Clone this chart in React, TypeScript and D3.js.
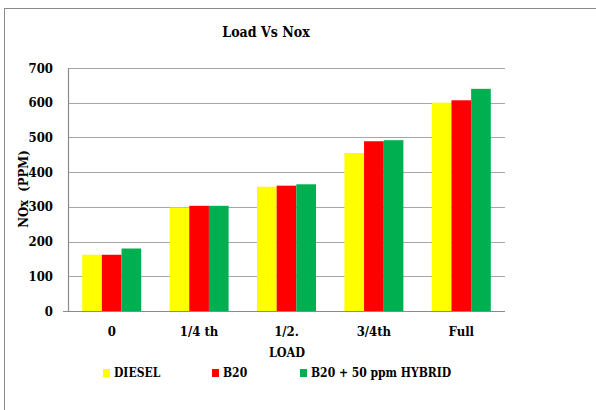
import React, { useEffect, useRef } from 'react';
import * as d3 from 'd3';

const loads = ['0', '1/4 th', '1/2.', '3/4th', 'Full'];
const seriesNames = ['DIESEL', 'B20', 'B20 + 50 ppm HYBRID'];
const diesel = [162, 298, 358, 455, 600];
const b20 = [162, 303, 361, 489, 607];
const hybrid = [180, 303, 365, 492, 640];
const yTicks = [0, 100, 200, 300, 400, 500, 600, 700];
const colors = ['#ffff00', '#ff0000', '#00b050'];

const FONT = '"DejaVu Serif Condensed", "DejaVu Serif", serif';

export default function App() {
  const svgRef = useRef<SVGSVGElement>(null);

  useEffect(() => {
    if (!svgRef.current) return;
    const W = 596;
    const H = 410;
    const plot = { left: 68, right: 505, top: 68, bottom: 311 };

    d3.select(svgRef.current).selectAll('*').remove();
    const svg = d3.select(svgRef.current)
      .attr('width', W)
      .attr('height', H)
      .style('font-family', FONT)
      .style('font-stretch', 'condensed');

    svg.append('rect')
      .attr('x', 0).attr('y', 0).attr('width', W).attr('height', H)
      .attr('fill', '#fff');

    // outer frame (runs off right and bottom)
    svg.append('rect')
      .attr('x', 4.5).attr('y', 8.5).attr('width', W + 10).attr('height', H + 10)
      .attr('fill', 'none').attr('stroke', '#8a8a8a').attr('stroke-width', 1);

    const x = d3.scaleBand()
      .domain(loads)
      .range([plot.left, plot.right])
      .paddingInner(0.325)
      .paddingOuter(0.1625);

    const x1 = d3.scaleBand()
      .domain(seriesNames)
      .range([0, x.bandwidth()]);

    const y = d3.scaleLinear()
      .domain([0, 700])
      .range([plot.bottom, plot.top]);

    // Grid lines
    svg.append('g')
      .selectAll('line')
      .data(yTicks.filter(t => t > 0))
      .enter()
      .append('line')
      .attr('x1', plot.left).attr('x2', plot.right)
      .attr('y1', d => Math.round(y(d)) + 0.5).attr('y2', d => Math.round(y(d)) + 0.5)
      .attr('stroke', '#a6a6a6').attr('stroke-width', 1.2);

    // Bars
    const values = [diesel, b20, hybrid];
    const rows = loads.map((l, i) => ({ load: l, vals: values.map(v => v[i]) }));

    const groups = svg.append('g')
      .selectAll('g')
      .data(rows)
      .enter()
      .append('g')
      .attr('transform', d => `translate(${x(d.load)},0)`);

    groups.selectAll('rect')
      .data(d => d.vals.map((v, k) => ({ name: seriesNames[k], v, k })))
      .enter()
      .append('rect')
      .attr('x', d => x1(d.name) as number)
      .attr('y', d => y(d.v))
      .attr('width', x1.bandwidth())
      .attr('height', d => y(0) - y(d.v))
      .attr('fill', d => colors[d.k]);

    // Axes lines
    svg.append('line')
      .attr('x1', plot.left + 0.5).attr('x2', plot.left + 0.5)
      .attr('y1', plot.top).attr('y2', plot.bottom)
      .attr('stroke', '#8a8a8a').attr('stroke-width', 1.2);
    svg.append('line')
      .attr('x1', plot.left - 5).attr('x2', plot.right)
      .attr('y1', Math.round(y(0)) + 0.5).attr('y2', Math.round(y(0)) + 0.5)
      .attr('stroke', '#8a8a8a').attr('stroke-width', 1.2);

    // y labels
    svg.append('g')
      .selectAll('text')
      .data(yTicks)
      .enter()
      .append('text')
      .attr('x', plot.left - 15)
      .attr('y', d => y(d))
      .attr('dy', '0.35em')
      .attr('text-anchor', 'end')
      .style('font-size', '13px')
      .style('font-weight', 'bold')
      .text(d => d);

    // x labels
    svg.append('g')
      .selectAll('text')
      .data(loads)
      .enter()
      .append('text')
      .attr('x', d => (x(d) as number) + x.bandwidth() / 2)
      .attr('y', 331)
      .attr('dy', '0.35em')
      .attr('text-anchor', 'middle')
      .style('font-size', '13px')
      .style('font-weight', 'bold')
      .text(d => d);

    // Axis titles
    svg.append('text')
      .attr('x', 287)
      .attr('y', 353)
      .attr('dy', '0.35em')
      .attr('text-anchor', 'middle')
      .style('font-size', '12.5px')
      .style('font-weight', 'bold')
      .text('LOAD');

    svg.append('text')
      .attr('transform', 'translate(23,189) rotate(-90)')
      .attr('dy', '0.35em')
      .attr('text-anchor', 'middle')
      .style('font-size', '13px')
      .style('font-weight', 'bold')
      .style('white-space', 'pre')
      .text('NOx  (PPM)');

    // Title
    svg.append('text')
      .attr('x', 266)
      .attr('y', 32)
      .attr('dy', '0.35em')
      .attr('text-anchor', 'middle')
      .style('font-size', '14px')
      .style('font-weight', 'bold')
      .text('Load Vs Nox');

    // Legend
    const legendX = [103, 212, 300];
    const legend = svg.append('g')
      .selectAll('g')
      .data(seriesNames)
      .enter()
      .append('g')
      .attr('transform', (d, i) => `translate(${legendX[i]},373)`);
    legend.append('rect')
      .attr('x', 0).attr('y', -4).attr('width', 7).attr('height', 8)
      .attr('fill', (d, i) => colors[i]);
    legend.append('text')
      .attr('x', 11)
      .attr('y', 0)
      .attr('dy', '0.35em')
      .style('font-size', '12px')
      .style('font-weight', 'bold')
      .text(d => d);
  }, []);

  return (
    <svg ref={svgRef} style={{ position: 'absolute', left: 0, top: 0, display: 'block' }}></svg>
  );
}
